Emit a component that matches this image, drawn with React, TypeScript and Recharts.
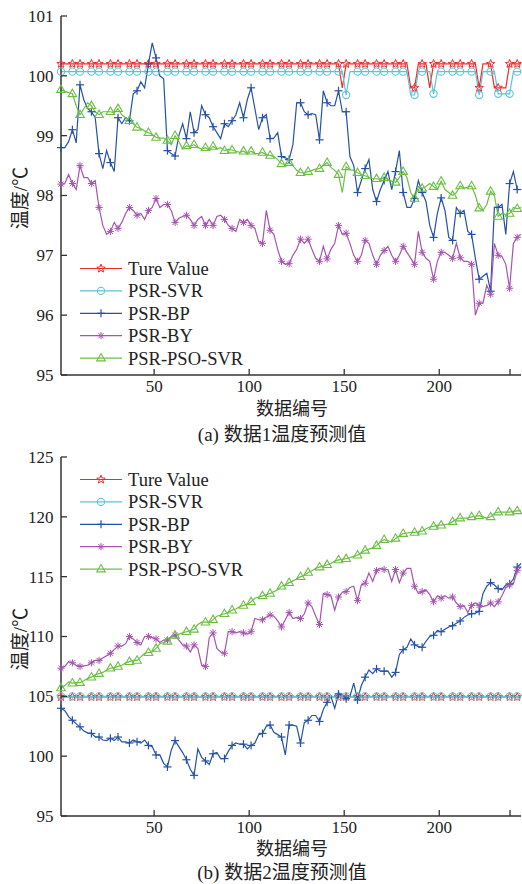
import { Line, LineChart, XAxis, YAxis } from "recharts";

// sample numbers (every other record, 1..243)
const SAMPLE = Array.from({ length: 122 }, (_, i) => 2 * i + 1);

// ---- data set 1 ----
const trueA = [
  100.2, 100.2, 100.2, 100.2, 100.2, 100.2, 100.2, 100.2, 100.2, 100.2,
  100.2, 100.2, 100.2, 100.2, 100.2, 100.2, 100.2, 100.2, 100.2, 100.2,
  100.2, 100.2, 100.2, 100.2, 100.2, 100.2, 100.2, 100.2, 100.2, 100.2,
  100.2, 100.2, 100.2, 100.2, 100.2, 100.2, 100.2, 100.2, 100.2, 100.2,
  100.2, 100.2, 100.2, 100.2, 100.2, 100.2, 100.2, 100.2, 100.2, 100.2,
  100.2, 100.2, 100.2, 100.2, 100.2, 100.2, 100.2, 100.2, 100.2, 100.2,
  100.2, 100.2, 100.2, 100.2, 100.2, 100.2, 100.2, 100.2, 100.2, 100.2,
  100.2, 100.2, 100.2, 100.2, 99.8, 100.2, 100.2, 100.2, 100.2, 100.2,
  100.2, 100.2, 100.2, 100.2, 100.2, 100.2, 100.2, 100.2, 100.2, 100.2,
  100.2, 100.2, 99.8, 99.8, 100.2, 100.2, 100.2, 99.8, 100.2, 100.2,
  100.2, 100.2, 100.2, 100.2, 100.2, 100.2, 100.2, 100.2, 100.2, 100.2,
  99.8, 100.2, 100.2, 100.2, 99.8, 99.8, 99.8, 99.8, 100.2, 100.2,
  100.2, 100.2,
];
const svrA = [
  100.07, 100.07, 100.07, 100.07, 100.07, 100.07, 100.07, 100.07, 100.07, 100.07,
  100.07, 100.07, 100.07, 100.07, 100.07, 100.07, 100.07, 100.07, 100.07, 100.07,
  100.07, 100.07, 100.07, 100.07, 100.07, 100.07, 100.07, 100.07, 100.07, 100.07,
  100.07, 100.07, 100.07, 100.07, 100.07, 100.07, 100.07, 100.07, 100.07, 100.07,
  100.07, 100.07, 100.07, 100.07, 100.07, 100.07, 100.07, 100.07, 100.07, 100.07,
  100.07, 100.07, 100.07, 100.07, 100.07, 100.07, 100.07, 100.07, 100.07, 100.07,
  100.07, 100.07, 100.07, 100.07, 100.07, 100.07, 100.07, 100.07, 100.07, 100.07,
  100.07, 100.07, 100.07, 100.07, 100.07, 99.68, 100.07, 100.07, 100.07, 100.07,
  100.07, 100.07, 100.07, 100.07, 100.07, 100.07, 100.07, 100.07, 100.07, 100.07,
  100.07, 100.07, 99.68, 99.68, 100.07, 100.07, 100.07, 100.07, 99.7, 100.07,
  100.07, 100.07, 100.07, 100.07, 100.07, 100.07, 100.07, 100.07, 100.07, 100.07,
  99.68, 100.07, 100.07, 100.07, 100.07, 99.7, 99.7, 99.7, 99.7, 100.07,
  100.07, 100.07,
];
const bpA = [
  98.8, 98.8, 98.9, 99.1, 98.88, 99.85, 99.6, 99.45, 99.4, 99.3,
  98.7, 98.45, 98.75, 98.55, 98.4, 99.3, 99.2, 99.3, 99.25, 99.7,
  99.75, 99.9, 99.8, 100.2, 100.55, 100.3, 100.0, 99.95, 98.75, 98.7,
  98.66, 99.0, 99.2, 98.95, 99.4, 99.05, 99.1, 99.5, 99.35, 99.3,
  99.15, 99.05, 98.95, 99.2, 99.15, 99.25, 99.35, 99.55, 99.3, 99.6,
  99.8, 99.45, 99.1, 99.3, 99.35, 98.95, 98.96, 99.05, 98.65, 98.63,
  98.6, 98.85, 99.55, 99.55, 99.4, 99.35, 99.37, 99.35, 98.93, 99.75,
  99.55, 99.5, 99.5, 99.75, 99.4, 99.4, 98.65, 98.5, 98.05, 98.25,
  98.45, 98.6, 98.1, 97.9, 98.1, 98.25, 98.4, 98.1, 98.4, 98.75,
  98.05, 97.8, 97.8, 97.95, 98.25, 98.05, 97.9, 97.5, 97.3, 97.7,
  97.96, 97.75, 97.3, 97.25, 97.8, 97.7, 97.75, 97.4, 97.35, 96.95,
  96.6, 96.65, 96.7, 96.4, 97.8, 97.8, 97.85, 97.35, 98.2, 98.4,
  98.1, 98.1,
];
const byA = [
  98.19, 98.2, 98.35, 98.2, 98.1, 98.5, 98.3, 98.3, 98.2, 98.25,
  97.8, 97.5, 97.35, 97.4, 97.55, 97.45, 97.55, 97.7, 97.8, 97.75,
  97.67, 97.7, 97.6, 97.75, 97.8, 97.95, 97.8, 97.85, 97.85, 97.75,
  97.55, 97.62, 97.65, 97.67, 97.6, 97.5, 97.6, 97.65, 97.5, 97.6,
  97.5, 97.65, 97.67, 97.6, 97.5, 97.45, 97.4, 97.6, 97.55, 97.6,
  97.5, 97.45, 97.23, 97.2, 97.75, 97.42, 97.35, 97.1, 96.9, 96.85,
  96.86, 97.0, 97.1, 97.27, 97.2, 97.27, 97.1, 96.95, 96.9, 97.15,
  96.94, 97.1, 97.2, 97.5, 97.35, 97.37, 97.2, 97.0, 96.9, 97.0,
  97.25, 97.2, 97.0, 96.85, 97.0, 97.08, 97.15, 97.0, 96.9, 97.0,
  97.15, 97.05, 96.95, 96.85, 97.4, 97.05, 96.95, 96.9, 96.6, 96.9,
  97.05, 97.05, 97.0, 96.95, 97.2, 96.96, 96.9, 96.9, 96.85, 96.0,
  96.2, 96.2, 96.5, 96.35, 97.2, 97.0, 96.98, 96.85, 96.45, 97.2,
  97.3, 97.35,
];
const psoA = [
  99.77, 99.74, 99.72, 99.7, 99.5, 99.35, 99.45, 99.55, 99.5, 99.4,
  99.35, 99.4, 99.4, 99.4, 99.38, 99.45, 99.35, 99.3, 99.25, 99.2,
  99.14, 99.12, 99.08, 99.05, 99.02, 98.97, 98.96, 98.96, 98.92, 98.85,
  99.0, 98.9, 98.78, 98.83, 98.82, 98.85, 98.8, 98.78, 98.8, 98.76,
  98.82, 98.78, 98.8, 98.75, 98.77, 98.76, 98.74, 98.72, 98.74, 98.7,
  98.74, 98.7, 98.7, 98.72, 98.68, 98.67, 98.65, 98.6, 98.53, 98.52,
  98.55, 98.5, 98.42, 98.38, 98.38, 98.4, 98.42, 98.44, 98.45, 98.5,
  98.55, 98.47, 98.42, 98.35, 98.05, 98.48, 98.43, 98.42, 98.38, 98.35,
  98.33, 98.3, 98.28, 98.28, 98.27, 98.3, 98.27, 98.24, 98.22, 98.3,
  98.4, 98.3, 98.05, 97.95, 98.15, 98.12, 98.15, 98.2, 98.15, 98.1,
  98.24, 98.1, 98.05, 98.0, 98.05, 98.16, 98.12, 98.14, 98.16, 98.0,
  97.79, 97.75, 97.85, 98.07, 98.0, 97.65, 97.7, 97.68, 97.7, 97.8,
  97.78, 97.8,
];

// ---- data set 2 ----
const trueB = [
  104.95, 104.95, 104.95, 104.95, 104.95, 104.95, 104.95, 104.95, 104.95, 104.95,
  104.95, 104.95, 104.95, 104.95, 104.95, 104.95, 104.95, 104.95, 104.95, 104.95,
  104.95, 104.95, 104.95, 104.95, 104.95, 104.95, 104.95, 104.95, 104.95, 104.95,
  104.95, 104.95, 104.95, 104.95, 104.95, 104.95, 104.95, 104.95, 104.95, 104.95,
  104.95, 104.95, 104.95, 104.95, 104.95, 104.95, 104.95, 104.95, 104.95, 104.95,
  104.95, 104.95, 104.95, 104.95, 104.95, 104.95, 104.95, 104.95, 104.95, 104.95,
  104.95, 104.95, 104.95, 104.95, 104.95, 104.95, 104.95, 104.95, 104.95, 104.95,
  104.95, 104.95, 104.95, 104.95, 104.95, 104.95, 104.95, 104.95, 104.95, 104.95,
  104.95, 104.95, 104.95, 104.95, 104.95, 104.95, 104.95, 104.95, 104.95, 104.95,
  104.95, 104.95, 104.95, 104.95, 104.95, 104.95, 104.95, 104.95, 104.95, 104.95,
  104.95, 104.95, 104.95, 104.95, 104.95, 104.95, 104.95, 104.95, 104.95, 104.95,
  104.95, 104.95, 104.95, 104.95, 104.95, 104.95, 104.95, 104.95, 104.95, 104.95,
  104.95, 104.95,
];
const svrB = [
  105.0, 105.0, 105.0, 105.0, 105.0, 105.0, 105.0, 105.0, 105.0, 105.0,
  105.0, 105.0, 105.0, 105.0, 105.0, 105.0, 105.0, 105.0, 105.0, 105.0,
  105.0, 105.0, 105.0, 105.0, 105.0, 105.0, 105.0, 105.0, 105.0, 105.0,
  105.0, 105.0, 105.0, 105.0, 105.0, 105.0, 105.0, 105.0, 105.0, 105.0,
  105.0, 105.0, 105.0, 105.0, 105.0, 105.0, 105.0, 105.0, 105.0, 105.0,
  105.0, 105.0, 105.0, 105.0, 105.0, 105.0, 105.0, 105.0, 105.0, 105.0,
  105.0, 105.0, 105.0, 105.0, 105.0, 105.0, 105.0, 105.0, 105.0, 105.0,
  105.0, 105.0, 105.0, 105.0, 105.0, 105.0, 105.0, 105.0, 105.0, 105.0,
  105.0, 105.0, 105.0, 105.0, 105.0, 105.0, 105.0, 105.0, 105.0, 105.0,
  105.0, 105.0, 105.0, 105.0, 105.0, 105.0, 105.0, 105.0, 105.0, 105.0,
  105.0, 105.0, 105.0, 105.0, 105.0, 105.0, 105.0, 105.0, 105.0, 105.0,
  105.0, 105.0, 105.0, 105.0, 105.0, 105.0, 105.0, 105.0, 105.0, 105.0,
  105.0, 105.0,
];
const bpB = [
  104.0, 103.8, 103.3, 103.0, 102.7, 102.45, 102.1, 101.95, 101.9, 101.6,
  101.6, 101.35, 101.3, 101.5, 101.3, 101.6, 101.2, 101.2, 101.1, 101.35,
  101.2, 101.1, 101.35, 100.9, 100.8, 100.1, 100.1, 99.4, 99.1, 100.5,
  101.3, 100.8, 100.3, 99.7, 98.9, 98.4, 100.6, 99.9, 99.6, 99.3,
  100.2, 100.3, 99.8, 99.8, 100.4, 100.9, 101.1, 101.0, 101.0, 100.6,
  100.9, 101.1, 101.8, 101.9, 102.5, 102.6, 102.0, 101.8, 101.6, 100.1,
  102.6, 102.6, 102.5, 101.1, 102.8, 103.0, 103.4, 103.4, 102.9, 103.9,
  104.5, 105.0, 104.0, 105.2, 105.1, 104.8, 105.0, 106.1, 104.7, 105.9,
  106.6, 107.2, 106.9, 107.3, 107.1, 107.1, 107.1, 106.6, 107.0, 108.5,
  108.9, 109.1, 109.8, 109.3, 109.15, 109.1, 109.6, 110.0, 110.1, 110.5,
  110.4, 110.6, 110.8, 110.9, 111.1, 111.3, 111.6, 111.8, 111.9, 111.95,
  112.1, 113.6, 114.2, 114.5, 114.3, 114.0, 113.9, 114.3, 114.4, 114.8,
  115.8, 116.1,
];
const byB = [
  107.35, 107.5, 107.9, 107.8, 107.6, 107.5, 107.55, 107.6, 107.8, 108.0,
  108.0, 108.2, 108.4, 108.6, 108.9, 109.2, 109.2, 109.4, 110.0, 109.8,
  109.5, 109.3, 110.0, 110.0, 109.9, 109.8, 109.5, 109.7, 109.7, 110.0,
  110.1, 109.7, 109.3, 109.2, 108.7, 109.3, 109.0, 107.6, 107.5, 109.9,
  110.3, 109.0, 108.7, 108.6, 110.4, 110.4, 110.3, 110.4, 110.3, 110.2,
  110.4, 111.5, 111.4, 111.4, 111.6, 111.8, 111.7, 111.3, 110.8, 111.4,
  112.0, 111.5, 111.6, 111.5, 111.9, 112.8, 112.5, 111.7, 111.0, 113.6,
  113.5, 113.4, 112.2, 113.3, 113.7, 113.75, 114.1, 114.2, 113.0, 114.3,
  114.45, 115.3, 114.6, 115.5, 115.7, 115.6, 115.6, 114.6, 115.6, 114.5,
  115.3, 115.7, 115.7, 114.2, 113.6, 113.75, 113.9, 113.5, 112.9, 113.4,
  113.2, 113.4, 113.2, 113.3, 112.8, 112.5, 112.6, 112.0, 112.6, 112.8,
  112.6, 112.5, 112.6, 112.8, 112.5, 112.9, 113.4, 114.1, 114.3, 114.4,
  115.5, 115.8,
];
const psoB = [
  105.7, 105.9, 106.2, 106.1, 106.15, 106.15, 106.3, 106.5, 106.6, 106.8,
  106.9, 107.0, 107.2, 107.35, 107.4, 107.5, 107.6, 107.8, 107.9, 108.0,
  108.0, 108.3, 108.6, 108.65, 108.7, 109.0, 109.4, 109.5, 109.6, 110.0,
  110.1, 110.2, 110.3, 110.4, 110.5, 110.6, 111.0, 111.2, 111.2, 111.2,
  111.4, 111.7, 111.8, 111.9, 112.0, 112.2, 112.3, 112.5, 112.6, 112.7,
  112.9, 113.2, 113.3, 113.4, 113.5, 113.6, 113.75, 113.9, 114.2, 114.3,
  114.5, 114.65, 114.8, 115.0, 115.1, 115.35, 115.5, 115.7, 115.8, 115.9,
  116.0, 116.1, 116.3, 116.4, 116.45, 116.5, 116.6, 116.7, 116.8, 117.0,
  117.2, 117.3, 117.4, 117.6, 117.9, 118.1, 118.0, 117.9, 118.2, 118.4,
  118.6, 118.65, 118.7, 118.7, 118.75, 118.8, 119.0, 119.15, 119.2, 119.3,
  119.3, 119.35, 119.4, 119.6, 119.8, 119.9, 119.9, 119.9, 120.0, 120.05,
  120.1, 120.0, 119.9, 120.0, 120.3, 120.4, 120.4, 120.4, 120.4, 120.45,
  120.5, 120.5,
];

const X_TICKS = [50, 100, 150, 200, 243];
const Y_TICKS_A = [95, 96, 97, 98, 99, 100, 101];
const Y_TICKS_B = [95, 100, 105, 110, 115, 120, 125];

const FONT = '"Liberation Serif", "Noto Sans CJK SC", serif';
const AXIS = "#333";

type Shape = "star" | "circle" | "plus" | "asterisk" | "triangle";

const SERIES: { key: string; name: string; color: string; shape: Shape }[] = [
  { key: "trueVal", name: "Ture Value", color: "#f42a2a", shape: "star" },
  { key: "svr", name: "PSR-SVR", color: "#5cc4d6", shape: "circle" },
  { key: "bp", name: "PSR-BP", color: "#2452a8", shape: "plus" },
  { key: "by", name: "PSR-BY", color: "#a653b2", shape: "asterisk" },
  { key: "pso", name: "PSR-PSO-SVR", color: "#6cbf45", shape: "triangle" },
];

function buildRows(t: number[], s: number[], b: number[], y: number[], p: number[]) {
  return SAMPLE.map((x, i) => ({ x, trueVal: t[i], svr: s[i], bp: b[i], by: y[i], pso: p[i] }));
}

function Marker({ shape, cx, cy, color }: { shape: Shape; cx: number; cy: number; color: string }) {
  switch (shape) {
    case "star": {
      const pts: string[] = [];
      for (let k = 0; k < 10; k++) {
        const r = k % 2 === 0 ? 4.4 : 1.9;
        const a = -Math.PI / 2 + (k * Math.PI) / 5;
        pts.push(`${cx + r * Math.cos(a)},${cy + r * Math.sin(a)}`);
      }
      return <polygon points={pts.join(" ")} fill="none" stroke={color} strokeWidth={1} />;
    }
    case "circle":
      return <circle cx={cx} cy={cy} r={3.6} fill="none" stroke={color} strokeWidth={1.1} />;
    case "plus":
      return (
        <g stroke={color} strokeWidth={1.2}>
          <line x1={cx - 4} y1={cy} x2={cx + 4} y2={cy} />
          <line x1={cx} y1={cy - 4} x2={cx} y2={cy + 4} />
        </g>
      );
    case "asterisk":
      return (
        <g stroke={color} strokeWidth={1}>
          <line x1={cx - 3.6} y1={cy} x2={cx + 3.6} y2={cy} />
          <line x1={cx} y1={cy - 3.6} x2={cx} y2={cy + 3.6} />
          <line x1={cx - 2.6} y1={cy - 2.6} x2={cx + 2.6} y2={cy + 2.6} />
          <line x1={cx - 2.6} y1={cy + 2.6} x2={cx + 2.6} y2={cy - 2.6} />
        </g>
      );
    default:
      return (
        <polygon
          points={`${cx},${cy - 4.6} ${cx + 4.3},${cy + 2.8} ${cx - 4.3},${cy + 2.8}`}
          fill="none"
          stroke={color}
          strokeWidth={1.1}
        />
      );
  }
}

// one marker roughly every 5 records
const showMarker = (i: number) => i === 0 || Math.floor((2 * i) / 5) !== Math.floor((2 * (i - 1)) / 5);

const makeDot = (shape: Shape, color: string, key: string) => (props: any) => {
  const { cx, cy, index } = props;
  if (!showMarker(index) || cx == null || cy == null) return <g key={`${key}-${index}`} />;
  return (
    <g key={`${key}-${index}`}>
      <Marker shape={shape} cx={cx} cy={cy} color={color} />
    </g>
  );
};

const YTick = (props: any) => {
  const { x, y, payload } = props;
  return (
    <g>
      <line x1={x} y1={y} x2={x + 6} y2={y} stroke={AXIS} strokeWidth={1.3} />
      <text x={x - 7.5} y={y} dy="0.35em" textAnchor="end" fontFamily={FONT} fontSize={17} fill="#222">
        {payload.value}
      </text>
    </g>
  );
};

const XTick = (props: any) => {
  const { x, y, payload } = props;
  return (
    <g>
      <line x1={x} y1={y} x2={x} y2={y - 6} stroke={AXIS} strokeWidth={1.3} />
      {payload.value % 50 === 0 && (
        <text x={x} y={y + 17} textAnchor="middle" fontFamily={FONT} fontSize={17} fill="#222">
          {payload.value}
        </text>
      )}
    </g>
  );
};

function Panel({
  top,
  rows,
  yDomain,
  yTicks,
  legendY,
  titleY,
  captionY,
  caption,
}: {
  top: number;
  rows: any[];
  yDomain: [number, number];
  yTicks: number[];
  legendY: number;
  titleY: number;
  captionY: number;
  caption: string;
}) {
  return (
    <div style={{ position: "absolute", left: 0, top, width: 522, height: 442 }}>
      <LineChart width={522} height={400} data={rows} margin={{ top: 16, right: 1, left: 0, bottom: 0 }}>
        <XAxis
          dataKey="x"
          type="number"
          domain={[1, 243]}
          ticks={X_TICKS}
          height={25}
          tickSize={0}
          tickMargin={0}
          tickLine={false}
          axisLine={{ stroke: AXIS, strokeWidth: 1.5 }}
          tick={<XTick />}
        />
        <YAxis
          type="number"
          domain={yDomain}
          ticks={yTicks}
          width={61}
          tickSize={0}
          tickMargin={0}
          tickLine={false}
          axisLine={{ stroke: AXIS, strokeWidth: 1.5 }}
          tick={<YTick />}
        />
        {SERIES.map((s) => (
          <Line
            key={s.key}
            dataKey={s.key}
            name={s.name}
            type="linear"
            stroke={s.color}
            strokeWidth={1.2}
            dot={makeDot(s.shape, s.color, s.key)}
            activeDot={false}
            isAnimationActive={false}
          />
        ))}
      </LineChart>
      <svg
        width={522}
        height={450}
        overflow="visible"
        style={{ position: "absolute", left: 0, top: 0, pointerEvents: "none", overflow: "visible" }}
      >
        {SERIES.map((s, i) => {
          const cy = legendY + i * 22.4;
          return (
            <g key={s.key}>
              <line x1={80} y1={cy} x2={122} y2={cy} stroke={s.color} strokeWidth={1.2} />
              <Marker shape={s.shape} cx={101} cy={cy} color={s.color} />
              <text x={128} y={cy} dy="0.35em" fontFamily={FONT} fontSize={18.5} fill="#222">
                {s.name}
              </text>
            </g>
          );
        })}
        <text
          x={20}
          y={198}
          dy="0.35em"
          textAnchor="middle"
          transform="rotate(-90, 20, 198)"
          fontFamily={FONT}
          fontSize={19}
          fill="#222"
        >
          温度/℃
        </text>
        <text x={292} y={titleY} dy="0.35em" textAnchor="middle" fontFamily={FONT} fontSize={18} fill="#222">
          数据编号
        </text>
        <text x={282} y={captionY} dy="0.35em" textAnchor="middle" fontFamily={FONT} fontSize={19} fill="#222">
          {caption}
        </text>
      </svg>
    </div>
  );
}

export default function App() {
  const rowsA = buildRows(trueA, svrA, bpA, byA, psoA);
  const rowsB = buildRows(trueB, svrB, bpB, byB, psoB);
  return (
    <div style={{ position: "absolute", left: 0, top: 0, width: 522, height: 884, background: "#fff" }}>
      <Panel
        top={0}
        rows={rowsA}
        yDomain={[95, 101]}
        yTicks={Y_TICKS_A}
        legendY={268.5}
        titleY={409}
        captionY={434}
        caption="(a) 数据1温度预测值"
      />
      <Panel
        top={441}
        rows={rowsB}
        yDomain={[95, 125]}
        yTicks={Y_TICKS_B}
        legendY={38.5}
        titleY={408}
        captionY={431}
        caption="(b) 数据2温度预测值"
      />
    </div>
  );
}
